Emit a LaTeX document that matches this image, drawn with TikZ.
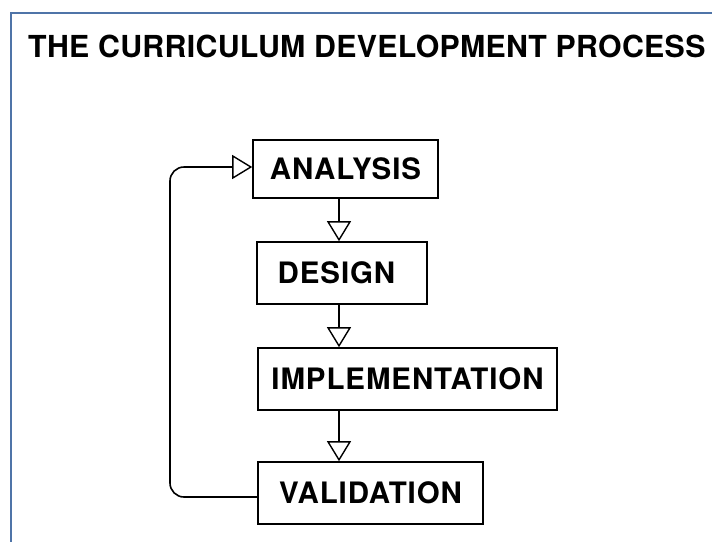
\documentclass[tikz,border=0pt]{standalone}
\usepackage{fontspec}
\setmainfont{TeX Gyre Heros}
\newfontfamily\stagefont[LetterSpace=3]{TeX Gyre Heros}
\newfontfamily\titlefont[LetterSpace=1]{TeX Gyre Heros}
\usetikzlibrary{arrows.meta}
\definecolor{framecol}{HTML}{4F74A8}
\tikzset{
  stage/.style={draw=black, line width=1.6pt, inner sep=0pt, font=\stagefont\fontsize{29.5}{32}\selectfont\bfseries, text height=21pt, text depth=0pt},
  flow/.style={draw=black, line width=1.6pt, -{Triangle[open, length=20pt, width=24pt, line width=1.4pt]}},
  heading/.style={anchor=base west, inner sep=0pt, font=\titlefont\fontsize{30.3}{32}\selectfont\bfseries}
}
\begin{document}
\begin{tikzpicture}[x=1pt, y=-1pt]
\useasboundingbox (0,0) rectangle (712,542);
% frame
\draw[framecol, line width=2pt] (712,13) -- (11,13) -- (11,542);
% title
\node[heading] (title) at (28,57) {THE CURRICULUM DEVELOPMENT PROCESS};
% boxes
\node[stage, minimum width=185pt, minimum height=58pt] (ana) at (345.5,169) {ANALYSIS};
\node[stage, minimum width=170pt, minimum height=62pt] (des) at (342,273) {\hspace*{-11pt}DESIGN};
\node[stage, minimum width=299pt, minimum height=62pt] (imp) at (407.5,379) {IMPLEMENTATION};
\node[stage, minimum width=225pt, minimum height=62pt] (val) at (370.5,493) {VALIDATION};
% connectors
\coordinate (spine) at (339,0);
\coordinate (loop) at (170,167);
\draw[flow] (ana.south -| spine) -- (des.north -| spine);
\draw[flow] (des.south -| spine) -- (imp.north -| spine);
\draw[flow] (imp.south -| spine) -- (val.north -| spine);
\draw[flow, rounded corners=14pt] ([yshift=-4pt]val.west) -| (loop) -- (ana.west |- loop);
\end{tikzpicture}
\end{document}
